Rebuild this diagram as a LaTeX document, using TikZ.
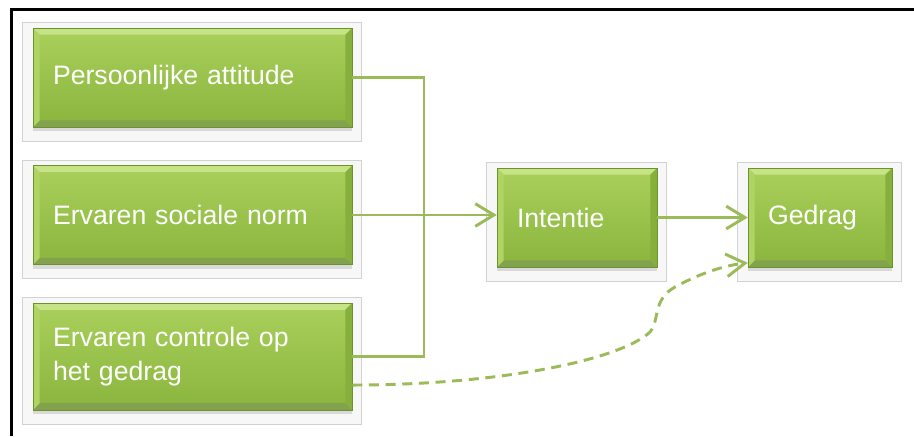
\documentclass[tikz,border=0pt]{standalone}
\usepackage{fontspec}
\setmainfont{Liberation Sans}
\usetikzlibrary{positioning,arrows.meta,shadows,backgrounds,calc}
\definecolor{facetop}{HTML}{A9D05C}
\definecolor{facebot}{HTML}{8AB53D}
\definecolor{bevlight}{HTML}{C6E485}
\definecolor{bevdark}{HTML}{6C922E}
\definecolor{conncol}{HTML}{9BBB59}
\tikzset{
    >={Straight Barb[length=14pt,width=17pt]},
    factor/.style={
        rectangle,
        top color=facetop,
        bottom color=facebot,
        draw=bevdark, thin,
        text=white,
        font=\fontsize{20}{26}\selectfont,
        minimum height=74.25pt,
        inner sep=15pt,
        align=left,
        text width=#1,
        drop shadow={shadow xshift=0pt, shadow yshift=-3pt, opacity=0.25},
        path picture={
            \fill[bevlight] (path picture bounding box.north west) -- (path picture bounding box.north east)
                -- ++(-5pt,-5pt) -- ([shift={(5pt,-5pt)}]path picture bounding box.north west) -- cycle;
            \fill[bevdark!85] (path picture bounding box.south west) -- (path picture bounding box.south east)
                -- ++(-5pt,5pt) -- ([shift={(5pt,5pt)}]path picture bounding box.south west) -- cycle;
            \fill[facetop!80!bevlight] (path picture bounding box.north west) -- ++(5pt,-5pt)
                -- ([shift={(5pt,5pt)}]path picture bounding box.south west) -- (path picture bounding box.south west) -- cycle;
            \fill[facebot!85!bevdark] (path picture bounding box.north east) -- ++(-5pt,-5pt)
                -- ([shift={(-5pt,5pt)}]path picture bounding box.south east) -- (path picture bounding box.south east) -- cycle;
        }
    },
    frame/.style={fill=gray!6, draw=gray!35, line width=0.75pt},
    conn/.style={draw=conncol, line width=2.2pt}
}
\begin{document}
\begin{tikzpicture}[x=0.75pt, y=-0.75pt]
    \useasboundingbox (0,0) rectangle (914,436);
    \draw[line width=2.25pt] (11,436) -- (11,9.5) -- (914,9.5);

    \node[factor=209.25pt] (attitude) at (192.5,77.5) {Persoonlijke attitude};
    \node[factor=209.25pt] (norm) at (192.5,215) {Ervaren sociale norm};
    \node[factor=209.25pt, minimum height=80pt] (control) at (192.5,356.5) {Ervaren controle op\\het gedrag};
    \node[factor=90pt] (intentie) at (577,217.5) {Intentie};
    \node[factor=78pt] (gedrag) at (820,217.5) {Gedrag};

    \begin{scope}[on background layer]
        \foreach \n in {attitude,norm,control,intentie,gedrag}
            \draw[frame] ([shift={(-7.5pt,3.75pt)}]\n.north west) rectangle ([shift={(6.75pt,-10.5pt)}]\n.south east);
    \end{scope}

    \coordinate (bus) at (424,215);
    \draw[conn] (attitude.east) -| (bus) |- (control.east);
    \draw[conn,->] (norm.east) -- (norm.east -| intentie.west);
    \draw[conn,->] (intentie) -- (gedrag);
    \draw[conn,->,dash pattern=on 7.5pt off 5pt] ([yshift=-21.4pt]control.east)
        .. controls (500,385) and (620,360) .. (650,332)
        .. controls (660,320) and (652,300) .. (675,287)
        .. controls (695,276) and (720,266) .. ([yshift=-34pt]gedrag.west);
\end{tikzpicture}
\end{document}
